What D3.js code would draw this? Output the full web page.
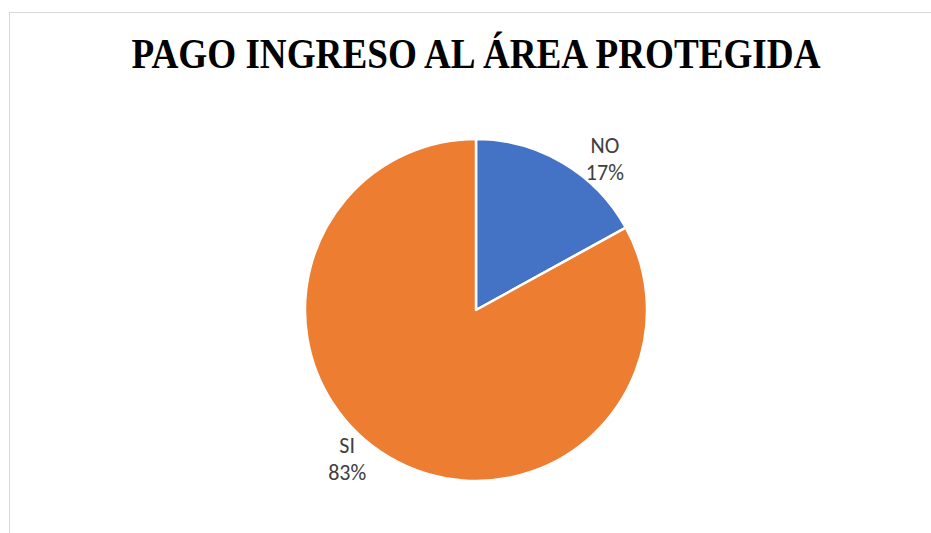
<!DOCTYPE html>
<html>
<head>
<meta charset="utf-8">
<script src="https://cdn.jsdelivr.net/npm/d3@7"></script>
<style>
html,body{margin:0;padding:0;background:#fff;}
svg{display:block;}
</style>
</head>
<body>
<svg id="chart" width="931" height="533"></svg>
<script>
const categories = ["NO", "SI"];
const values = [17, 83];
const colors = ["#4472C4", "#ED7D31"];
const title = "PAGO INGRESO AL ÁREA PROTEGIDA";

const svg = d3.select("#chart");
// chart area border
svg.append("rect")
  .attr("x", 9.5).attr("y", 12.5)
  .attr("width", 940).attr("height", 540)
  .attr("fill", "#fff").attr("stroke", "#d9d9d9").attr("stroke-width", 1);

svg.append("text")
  .attr("x", 476).attr("y", 68)
  .attr("text-anchor", "middle")
  .attr("font-family", "'Liberation Serif','Times New Roman',serif")
  .attr("font-weight", "bold")
  .attr("font-size", 42)
  .attr("textLength", 689)
  .attr("lengthAdjust", "spacingAndGlyphs")
  .attr("fill", "#000")
  .text(title);

const cx = 476, cy = 310, r = 171;
const data = categories.map((c, i) => ({cat: c, value: values[i], color: colors[i]}));
const pie = d3.pie().value(d => d.value).sort(null);
const arcs = pie(data);
const arc = d3.arc().innerRadius(0).outerRadius(r);

const g = svg.append("g").attr("transform", `translate(${cx},${cy})`);
g.selectAll("path").data(arcs).enter().append("path")
  .attr("d", arc)
  .attr("fill", d => d.data.color)
  .attr("stroke", "#fff")
  .attr("stroke-width", 2.5)
  .attr("stroke-linejoin", "round");

const total = d3.sum(values);
const labelR = 198, shift = 10 * Math.PI / 180;
const lbl = g.selectAll("g.lbl").data(arcs).enter().append("g").attr("class", "lbl")
  .attr("transform", d => {
    const a = (d.startAngle + d.endAngle) / 2 + shift;
    return `translate(${labelR * Math.sin(a)},${-labelR * Math.cos(a)})`;
  });
lbl.append("text")
  .attr("text-anchor", "middle").attr("y", -7)
  .attr("font-family", "Carlito,'Open Sans','Noto Sans',sans-serif")
  .attr("font-size", 22).attr("fill", "#404040")
  .text(d => d.data.cat);
lbl.append("text")
  .attr("text-anchor", "middle").attr("y", 20)
  .attr("font-family", "Carlito,'Open Sans','Noto Sans',sans-serif")
  .attr("font-size", 22).attr("fill", "#404040")
  .text(d => Math.round(d.data.value / total * 100) + "%");
</script>
</body>
</html>
